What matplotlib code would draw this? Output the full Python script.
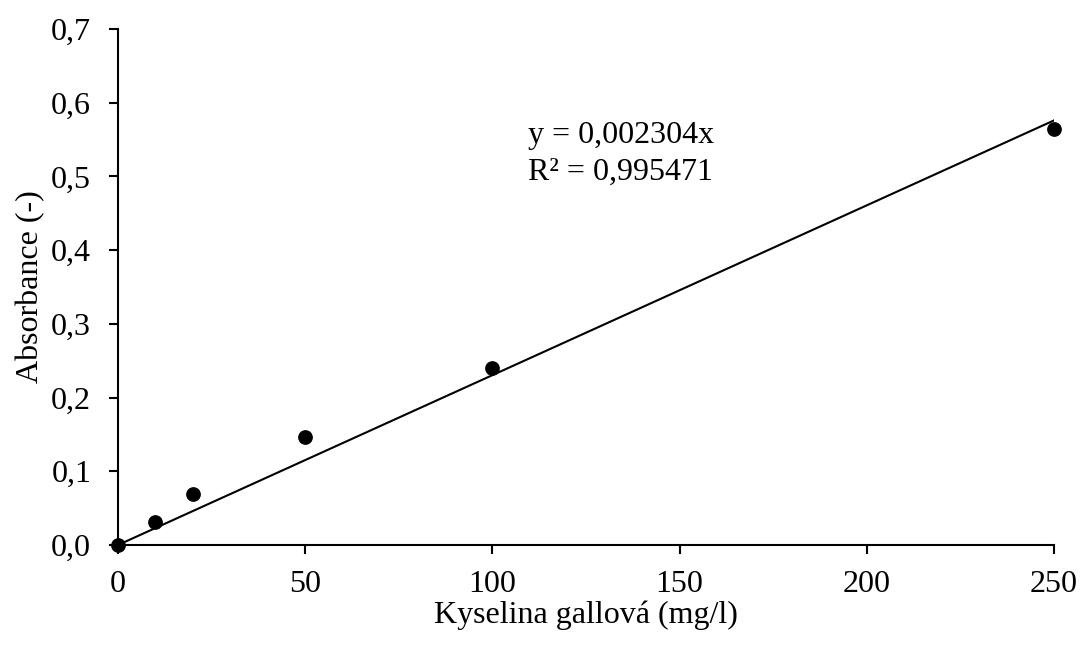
import matplotlib
matplotlib.use("Agg")
import matplotlib.pyplot as plt
from matplotlib.ticker import FuncFormatter, MultipleLocator
import numpy as np

conc = [0, 10, 20, 50, 100, 250]
absorb = [0.0, 0.031, 0.069, 0.147, 0.240, 0.565]
slope = 0.002304
r2_label = "R² = 0,995471"
eq_label = "y = 0,002304x"

plt.rcParams['font.family'] = ['Liberation Serif', 'DejaVu Serif']
FS = 23

fig = plt.figure(figsize=(10.82, 6.46), dpi=100)
ax = fig.add_axes([118/1082, 1-545/646, (1054-118)/1082, (545-29)/646])

xfit = np.array([0, 250])
ax.plot(xfit, slope*xfit, color='black', lw=1.5, zorder=2)
ax.scatter(conc, absorb, s=9.6**2, color='black', zorder=3, clip_on=False)

ax.set_xlim(0, 250)
ax.set_ylim(0, 0.7)
ax.xaxis.set_major_locator(MultipleLocator(50))
ax.yaxis.set_major_locator(MultipleLocator(0.1))
ax.yaxis.set_major_formatter(FuncFormatter(lambda v, p: f"{v:.1f}".replace('.', ',')))
ax.xaxis.set_major_formatter(FuncFormatter(lambda v, p: f"{v:.0f}"))

for s in ['top', 'right']:
    ax.spines[s].set_visible(False)
for s in ['left', 'bottom']:
    ax.spines[s].set_linewidth(1.5)
ax.tick_params(axis='both', direction='out', length=6.3, width=1.5, labelsize=FS, colors='black')
ax.tick_params(axis='x', pad=12)
ax.tick_params(axis='y', pad=13)

ax.set_xlabel("Kyselina gallová (mg/l)", fontsize=FS)
ax.set_ylabel("Absorbance (-)", fontsize=FS)
ax.xaxis.set_label_coords(0.5, -(600-545)/516, transform=ax.transAxes)
ax.yaxis.set_label_coords(-(118-45)/936, 0.5, transform=ax.transAxes)

ax.text(109.5, 0.556, eq_label, fontsize=FS, ha='left', va='center')
ax.text(109.5, 0.506, r2_label, fontsize=FS, ha='left', va='center')

fig.savefig("out.png", dpi=100)
